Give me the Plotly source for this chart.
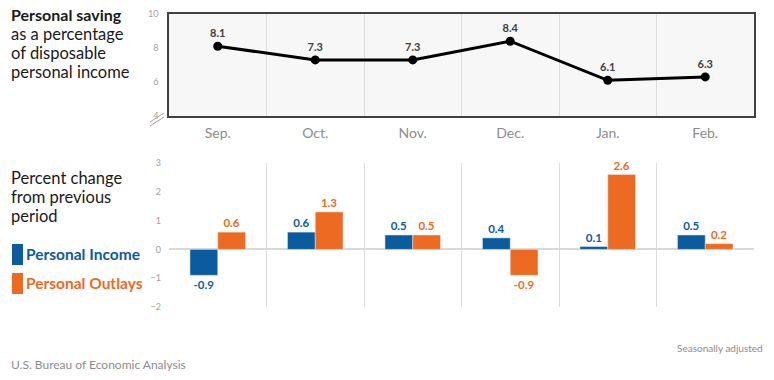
import plotly.graph_objects as go

months = ["Sep.", "Oct.", "Nov.", "Dec.", "Jan.", "Feb."]
saving_rate = [8.1, 7.3, 7.3, 8.4, 6.1, 6.3]
personal_income = [-0.9, 0.6, 0.5, 0.4, 0.1, 0.5]
personal_outlays = [0.6, 1.3, 0.5, -0.9, 2.6, 0.2]
top_ticks = [4, 6, 8, 10]
bottom_ticks = [-2, -1, 0, 1, 2, 3]

BLUE = "#0A5C9E"
ORANGE = "#ED6A23"
FONT = "Lato"
W, H = 774, 380
OFF = 0  # body margin removed below


def py(y):
    return 1 - (y - OFF) / H


def px(x):
    return (x - OFF) / W


fig = go.Figure()

fig.add_trace(go.Scatter(
    x=months, y=saving_rate, mode="lines+markers+text",
    line=dict(color="black", width=3), marker=dict(color="black", size=9),
    text=[f"{v:.1f}" for v in saving_rate], textposition="top center",
    textfont=dict(family=FONT, size=11, color="#404040", weight="bold"),
    xaxis="x", yaxis="y", showlegend=False, cliponaxis=False, hoverinfo="skip"))

fig.add_trace(go.Bar(
    x=months, y=personal_income, marker=dict(color=BLUE),
    text=[f"{v:.1f}" for v in personal_income], textposition="outside",
    textfont=dict(family=FONT, size=11.5, color=BLUE, weight="bold"),
    xaxis="x2", yaxis="y2", showlegend=False, cliponaxis=False))
fig.add_trace(go.Bar(
    x=months, y=personal_outlays, marker=dict(color=ORANGE),
    text=[f"{v:.1f}" for v in personal_outlays], textposition="outside",
    textfont=dict(family=FONT, size=11.5, color=ORANGE, weight="bold"),
    xaxis="x2", yaxis="y2", showlegend=False, cliponaxis=False))

xdom = [px(169), px(754)]
xrange = [-0.5, len(months) - 0.5]
fig.update_layout(
    width=W, height=H, margin=dict(l=0, r=0, t=0, b=0, autoexpand=False),
    paper_bgcolor="white", plot_bgcolor="white",
    font=dict(family=FONT),
    barmode="group", bargap=0.43, bargroupgap=0,
    xaxis=dict(domain=xdom, anchor="y", type="category", tickson="boundaries",
               range=xrange, automargin=False,
               showgrid=True, gridcolor="#dcdcdc", gridwidth=1,
               showline=True, linecolor="#404040", linewidth=1.5, mirror=True,
               ticks="", tickfont=dict(family=FONT, size=14, color="#8c8c8c"),
               ticklabelstandoff=3),
    yaxis=dict(domain=[py(116), py(14)], anchor="x", range=[4, 10],
               automargin=False,
               tickvals=top_ticks, showgrid=False, zeroline=False,
               showline=True, linecolor="#404040", linewidth=1.5, mirror=True,
               tickfont=dict(family=FONT, size=9, color="#a0a0a0"), ticks="",
               ticklabelstandoff=7),
    xaxis2=dict(domain=xdom, anchor="y2", type="category", tickson="boundaries",
                range=xrange, automargin=False,
                showgrid=True, gridcolor="#dcdcdc", gridwidth=1,
                showticklabels=False, ticks="", showline=False),
    yaxis2=dict(domain=[py(307), py(163)], anchor="x2", range=[-2, 3],
                automargin=False,
                tickvals=bottom_ticks, showgrid=False,
                zeroline=True, zerolinecolor="#d9d9d9", zerolinewidth=1.5,
                tickfont=dict(family=FONT, size=9, color="#a0a0a0"), ticks="",
                ticklabelstandoff=7),
)
# light gray plot background for the top panel
fig.add_shape(type="rect", xref="x domain", yref="y domain", x0=0, x1=1, y0=0, y1=1,
              fillcolor="#f7f7f7", line=dict(width=0), layer="below")

# axis break marks
for dy in (0, 4):
    fig.add_shape(type="line", xref="paper", yref="paper",
                  x0=px(150), y0=py(122 + dy), x1=px(164), y1=py(113 + dy),
                  line=dict(color="#a0a0a0", width=1))


def ann(text, x, y, size, color, bold=False, xanchor="left"):
    fig.add_annotation(text=text, x=px(x), y=py(y), xref="paper", yref="paper",
                       showarrow=False, xanchor=xanchor, yanchor="middle",
                       font=dict(family=FONT, size=size, color=color,
                                 weight="bold" if bold else "normal"))


ann("Personal saving", 9, 14, 16, "#1a1a1a", bold=True)
ann("as a percentage", 9, 34, 16.5, "#1a1a1a")
ann("of disposable", 9, 53, 16.5, "#1a1a1a")
ann("personal income", 9, 72, 16.5, "#1a1a1a")
ann("Percent change", 9, 178, 16.5, "#1a1a1a")
ann("from previous", 9, 197, 16.5, "#1a1a1a")
ann("period", 9, 216, 16.5, "#1a1a1a")
ann("Personal Income", 24, 254, 15.5, BLUE, bold=True)
ann("Personal Outlays", 24, 283, 15.5, ORANGE, bold=True)
ann("Seasonally adjusted", 765, 348, 10, "#8c8c8c", xanchor="right")
ann("U.S. Bureau of Economic Analysis", 9, 364, 12, "#8c8c8c")

fig.add_shape(type="rect", xref="paper", yref="paper", x0=px(12), x1=px(23),
              y0=py(265), y1=py(244), fillcolor=BLUE, line=dict(width=0))
fig.add_shape(type="rect", xref="paper", yref="paper", x0=px(12), x1=px(23),
              y0=py(294), y1=py(273), fillcolor=ORANGE, line=dict(width=0))

fig.write_html("out.html", config={"displayModeBar": False},
               post_script="document.body.style.margin='0px';")
